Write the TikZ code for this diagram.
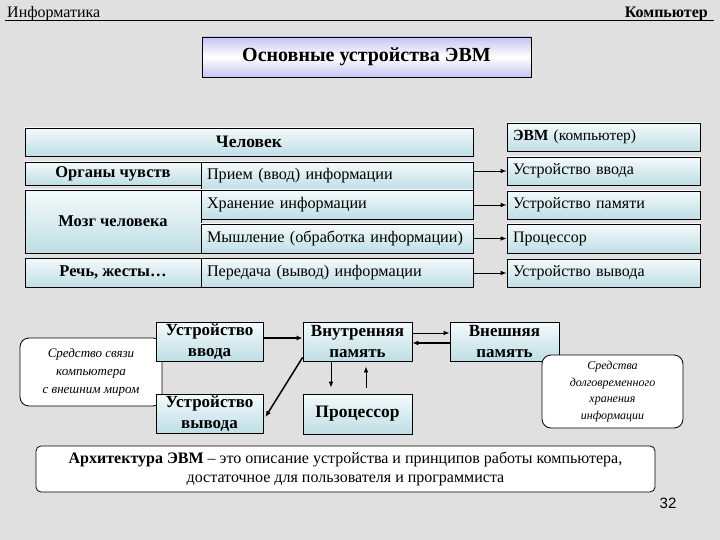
\documentclass[tikz,border=0pt]{standalone}
\usepackage{fontspec}
\setmainfont{Liberation Serif}
\newfontfamily\numfont{Liberation Sans}
\usetikzlibrary{arrows.meta,calc}
\definecolor{bgc}{RGB}{224,224,224}
\definecolor{tTop}{RGB}{244,250,251}
\definecolor{tBot}{RGB}{190,222,229}
\definecolor{lav}{RGB}{196,196,240}
\newcommand{\fs}[2]{\fontsize{#1}{#2}\selectfont}
\tikzset{
  tbox/.style={draw=black, line width=0.8pt, top color=tTop, bottom color=tBot, inner sep=0pt},
  lbox/.style={tbox, inner xsep=6pt, align=left},
  rbox/.style={draw=black, line width=0.8pt, fill=white, rounded corners=9pt, inner sep=0pt, align=center},
  arr/.style={line width=0.8pt, -{Latex[length=6pt,width=4.5pt]}},
  barr/.style={line width=1.5pt, -{Latex[length=6pt,width=5pt]}},
}
\begin{document}
\begin{tikzpicture}[x=1pt,y=-1pt]
\path[fill=bgc, use as bounding box] (0,0) rectangle (720,540);
% header
\node[anchor=base west, inner sep=0pt, font=\fs{16}{18}] (hinf) at (7,18) {Информатика};
\node[anchor=base east, inner sep=0pt, font=\fs{16}{18}\bfseries] (hcomp) at (708,18) {Компьютер};
\coordinate (hl) at (5,20.5);
\coordinate (hr) at (714,20.5);
\draw[line width=1.6pt] (hl) -- (hr);
% title
\node[draw=black, line width=0.8pt, top color=lav, bottom color=lav, middle color=white,
  minimum width=329, minimum height=40, inner sep=0pt, font=\fs{20}{24}\bfseries] (title) at (366.5,57) {Основные устройства ЭВМ};
% top table
\node[tbox, minimum width=448, minimum height=28, font=\fs{17.5}{20}\bfseries] (chel) at (249,142) {Человек};
\node[lbox, text width=181, minimum height=28, font=\fs{15.5}{19}] (evm) at (603.5,137) {\textbf{ЭВМ} (компьютер)};
\node[tbox, minimum width=176, minimum height=23, font=\fs{16.5}{19}\bfseries] (org) at (113,173.5) {Органы чувств};
\node[tbox, minimum width=176, minimum height=63, font=\fs{16.5}{19}\bfseries] (mozg) at (113,221.5) {Мозг человека};
\node[tbox, minimum width=176, minimum height=29, font=\fs{16.5}{19}\bfseries] (rech) at (113,272.5) {Речь, жесты\dots};
\node[lbox, text width=260, minimum height=28, font=\fs{16.2}{19}] (priem) at (337,176) {Прием (ввод) информации};
\node[lbox, text width=260, minimum height=29, font=\fs{16.2}{19}] (hran) at (337,204.5) {Хранение информации};
\node[lbox, text width=260, minimum height=29, font=\fs{16.2}{19}] (mysh) at (337,238.5) {Мышление (обработка информации)};
\node[lbox, text width=260, minimum height=29, font=\fs{16.2}{19}] (pered) at (337,272.5) {Передача (вывод) информации};
\node[lbox, text width=181, minimum height=28, font=\fs{16}{19}] (vvod) at (603.5,171) {Устройство ввода};
\node[lbox, text width=181, minimum height=28, font=\fs{16}{19}] (pam) at (603.5,205) {Устройство памяти};
\node[lbox, text width=181, minimum height=29, font=\fs{16}{19}] (proc) at (603.5,238.5) {Процессор};
\node[lbox, text width=181, minimum height=28, font=\fs{16}{19}] (vyv) at (603.5,273) {Устройство вывода};
\draw[arr] (vvod.west -| priem.east) -- (vvod.west);
\draw[arr] (pam.west -| hran.east) -- (pam.west);
\draw[arr] (proc.west -| mysh.east) -- (proc.west);
\draw[arr] (vyv.west -| pered.east) -- (vyv.west);
% bottom scheme
\node[rbox, minimum width=142, minimum height=68, font=\fs{13}{18}\itshape] (sv) at (91,372) {Средство связи\\компьютера\\с внешним миром};
\node[tbox, minimum width=107, minimum height=39, align=center, font=\fs{17}{20.5}\bfseries] (in) at (209.5,341.5) {Устройство\\ввода};
\node[tbox, minimum width=107, minimum height=39, align=center, font=\fs{17}{20.5}\bfseries] (out) at (209.5,413.5) {Устройство\\вывода};
\node[tbox, minimum width=109, minimum height=39, align=center, font=\fs{17}{20.5}\bfseries] (vnut) at (357.5,341.5) {Внутренняя\\память};
\node[tbox, minimum width=109, minimum height=40, align=center, font=\fs{17.5}{20}\bfseries] (proc2) at (357.5,414) {Процессор};
\node[tbox, minimum width=109, minimum height=39, align=center, font=\fs{17}{20.5}\bfseries] (vnesh) at (504.5,341.5) {Внешняя\\память};
\node[rbox, minimum width=141, minimum height=73, font=\fs{12}{16.5}\itshape] (sr) at (612.5,391.5) {Средства\\долговременного\\хранения\\информации};
\draw[barr] ([yshift=3.5pt]in.east) -- ([yshift=3.5pt]vnut.west);
\draw[barr] ([yshift=4pt]vnut.south west) -- ([xshift=2pt,yshift=-3.5pt]out.east);
\draw[arr, shorten >=6pt] ([xshift=-26.5pt]vnut.south) -- ([xshift=-26.5pt]proc2.north);
\draw[arr, shorten <=6pt, shorten >=5pt] ([xshift=8.5pt]proc2.north) -- ([xshift=8.5pt]vnut.south);
\draw[arr] ([yshift=8.5pt]vnut.east) -- ([yshift=8.5pt]vnesh.west);
\draw[barr] ([yshift=-1.5pt]vnesh.west) -- ([yshift=-1.5pt]vnut.east);
% bottom definition
\node[rbox, rounded corners=5pt, minimum width=619, minimum height=46, font=\fs{16}{18.5}] (arch) at (345.5,469) {\textbf{Архитектура ЭВМ} -- это описание устройства и принципов работы компьютера,\\достаточное для пользователя и программиста};
\node[inner sep=0pt, font=\numfont\fs{15}{17}] (pnum) at (668,503) {32};
\end{tikzpicture}
\end{document}
